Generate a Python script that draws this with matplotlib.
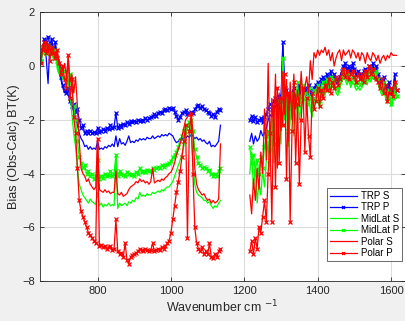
import numpy as np
import matplotlib
matplotlib.use('Agg')
import matplotlib.pyplot as plt

plt.rcParams['font.family'] = ['Liberation Sans', 'DejaVu Sans']

# wavenumber grids (cm-1) for the two bands
wn1 = np.arange(645, 1136, 5)
wn2 = np.arange(1215, 1616, 5)

# ---- band 1 (645-1135) ----
trp_p1 = [0.2, 0.7, 1.0, 0.9, 1.1, 0.8, 1.0, 0.6, 0.9, 0.3,
          0.0, -0.4, -0.7, -0.9, -1.0, -0.8, -1.3, -1.5, -1.4, -1.7,
          -1.6, -2.0, -2.3, -2.2, -2.5, -2.4, -2.5, -2.4, -2.5, -2.45,
          -2.5, -2.3, -2.45, -2.4, -2.35, -2.4, -2.3, -2.35, -2.2, -2.3,
          -2.25, -1.75, -2.3, -2.2, -2.25, -2.15, -2.2, -2.1, -2.15, -2.05,
          -2.1, -2.05, -2.1, -2.0, -2.05, -2.0, -2.05, -1.95, -2.0, -1.95,
          -1.9, -1.85, -1.8, -1.85, -1.75, -1.7, -1.75, -1.65, -1.6, -1.65,
          -1.55, -1.6, -1.55, -1.7, -1.85, -2.0, -1.9, -1.75, -1.7, -1.65,
          -1.8, -1.75, -1.7, -1.75, -1.6, -1.5, -1.45, -1.55, -1.5, -1.6,
          -1.65, -1.7, -1.75, -1.85, -1.8, -1.9, -1.7, -1.6, -1.65]
trp_s1 = [0.1, 0.6, 0.9, 0.3, -0.65, 0.8, 0.9, 0.5, 0.8, 0.2,
          -0.2, -0.5, -0.8, -1.0, -0.9, -1.1, -1.3, -1.5, -1.7, -1.9,
          -2.2, -2.5, -2.7, -2.8, -3.0, -2.95, -3.1, -3.0, -3.1, -3.05,
          -3.1, -2.8, -3.1, -3.05, -3.1, -3.0, -3.05, -2.95, -3.0, -2.9,
          -3.0, -2.6, -3.0, -2.7, -2.9, -2.85, -2.95, -2.8, -2.6, -2.85,
          -2.8, -2.85, -2.75, -2.8, -2.7, -2.75, -2.7, -2.75, -2.65, -2.7,
          -2.7, -2.6, -2.7, -2.65, -2.6, -2.65, -2.55, -2.6, -2.55, -2.6,
          -2.5, -2.55, -2.6, -2.75, -2.85, -2.8, -2.7, -2.75, -2.65, -2.7,
          -2.6, -2.65, -2.55, -2.6, -2.7, -2.65, -2.75, -2.7, -2.8, -2.75,
          -2.85, -2.9, -2.8, -3.0, -2.95, -3.0, -2.9, -2.8, -2.2]
mid_p1 = [0.2, 0.5, 0.7, 0.6, 0.8, 0.5, 0.7, 0.3, 0.6, 0.2,
          -0.1, -0.3, -0.2, -0.5, -0.4, -0.6, -0.3, -0.9, -1.5, -2.0,
          -2.8, -3.4, -3.6, -3.8, -3.7, -4.0, -3.9, -4.1, -4.0, -4.2,
          -4.1, -3.5, -4.2, -4.1, -4.15, -4.0, -4.1, -4.05, -3.9, -4.1,
          -4.0, -3.3, -4.1, -3.9, -4.0, -4.05, -4.1, -3.95, -4.0, -4.05,
          -4.0, -4.1, -3.95, -4.0, -3.8, -3.95, -3.9, -3.95, -3.85, -3.9,
          -3.9, -3.8, -3.85, -3.8, -3.75, -3.8, -3.7, -3.75, -3.7, -3.65,
          -3.6, -3.55, -3.4, -3.3, -3.2, -3.0, -2.8, -2.6, -2.4, -2.3,
          -2.2, -2.1, -2.0, -2.4, -3.1, -3.4, -3.6, -3.7, -3.8, -3.75,
          -3.8, -3.9, -3.85, -4.0, -4.1, -4.0, -4.1, -3.9, -3.8]
mid_s1 = [0.0, 0.5, 0.6, 0.4, 0.7, 0.3, 0.6, 0.2, 0.5, -0.1,
          -0.3, -0.2, -0.5, -0.4, -0.8, -0.6, -1.0, -1.8, -2.5, -3.0,
          -3.8, -4.4, -4.6, -4.8, -4.9, -5.0, -5.1, -4.95, -5.05, -5.1,
          -5.15, -4.7, -5.2, -5.1, -5.25, -5.15, -5.2, -5.1, -5.2, -5.15,
          -5.2, -3.3, -5.3, -5.1, -5.2, -5.15, -5.1, -5.2, -5.05, -5.1,
          -5.0, -5.05, -4.9, -4.95, -4.7, -4.85, -4.8, -4.85, -4.75, -4.8,
          -4.8, -4.7, -4.75, -4.7, -4.65, -4.7, -4.6, -4.65, -4.55, -4.5,
          -4.5, -4.4, -4.3, -4.1, -3.9, -3.7, -3.5, -3.3, -3.0, -2.6,
          -2.3, -2.1, -2.5, -3.6, -4.4, -4.7, -4.8, -4.85, -4.9, -5.0,
          -5.0, -5.1, -5.05, -5.2, -5.3, -5.2, -5.25, -5.1, -5.0]
pol_s1 = [0.3, 0.8, 0.6, 0.9, 0.5, 0.7, 0.4, 0.6, 0.3, 0.5,
          0.2, 0.0, -0.2, 0.1, -0.4, 0.3, -0.6, -0.3, -1.0, -0.4,
          -1.5, -2.8, -3.8, -4.0, -4.1, -4.3, -4.2, -4.4, -4.5, -4.6,
          -4.5, -2.7, -4.6, -4.65, -4.7, -4.6, -4.7, -4.65, -4.75, -4.7,
          -4.7, -3.9, -4.75, -4.8, -4.7, -4.85, -4.8, -4.75, -4.6, -4.5,
          -4.45, -4.4, -4.3, -4.35, -4.2, -4.3, -4.25, -4.35, -4.3, -4.4,
          -4.3, -3.8, -4.35, -4.3, -4.25, -4.3, -4.2, -4.25, -4.15, -4.1,
          -4.0, -3.95, -3.8, -3.6, -3.3, -3.1, -2.9, -2.6, -2.3, -2.0,
          -1.9, -1.8, -1.7, -2.5, -3.8, -4.4, -4.6, -4.7, -4.8, -4.75,
          -4.9, -5.0, -4.95, -5.1, -5.0, -5.1, -5.05, -4.95, -2.9]
pol_p1 = [0.1, 0.6, 0.9, 0.5, 0.8, 0.2, 0.7, 0.5, 0.3, 0.6,
          0.1, -0.3, 0.0, -0.5, -0.8, 0.4, -1.2, -0.5, -1.9, -2.5,
          -3.8, -5.0, -5.4, -5.6, -5.8, -6.0, -6.2, -6.3, -6.4, -6.5,
          -6.6, -2.7, -6.7, -6.65, -6.75, -6.7, -6.8, -6.75, -6.7, -6.85,
          -6.8, -5.7, -6.9, -7.0, -6.95, -7.1, -6.6, -7.2, -7.35, -7.1,
          -7.05, -7.0, -6.95, -6.9, -6.8, -6.85, -6.9, -6.8, -6.85, -6.9,
          -6.85, -6.6, -6.9, -6.85, -6.8, -6.85, -6.75, -6.8, -6.7, -6.6,
          -6.5, -6.2, -5.7, -5.2, -4.7, -4.3, -3.9, -3.4, -2.8, -2.2,
          -6.4, -2.4, -1.8, -4.0, -6.0, -6.6, -6.8, -6.9, -6.75, -7.0,
          -6.9, -7.0, -6.6, -7.1, -7.15, -7.0, -7.1, -6.9, -6.8]

# ---- band 2 (1215-1615) ----
trp_p2 = [-2.0, -1.85, -2.05, -1.9, -2.1, -2.0, -1.95, -2.1, -1.9, -1.8,
          -1.6, -1.4, -1.5, -1.3, -1.2, -1.4, -1.1, -1.3, 0.9, -0.8,
          -0.9, -1.1, -1.3, -1.0, -0.8, -1.2, -1.0, -0.7, -1.1, -0.9,
          -0.8, -1.0, -0.7, -0.9, -1.1, -0.8, -0.7, -0.6, -0.9, -0.5,
          -0.4, -0.6, -0.3, -0.5, -0.2, -0.4, -0.3, -0.5, -0.6, -0.4,
          -0.2, 0.0, 0.1, -0.1, 0.0, -0.2, 0.1, -0.1, -0.3, -0.2,
          -0.3, -0.4, -0.2, -0.1, -0.3, 0.0, -0.2, 0.1, -0.1, 0.0,
          -0.3, -0.5, -0.6, -0.4, -0.7, -0.8, -0.6, -1.0, -0.9, -0.3,
          -0.9]
trp_s2 = [-2.8, -2.5, -2.9, -2.6, -2.8, -2.7, -2.4, -2.6, -2.5, -2.3,
          -2.0, -1.8, -1.9, -1.6, -1.5, -1.7, -1.3, -1.4, 0.8, -0.9,
          -1.0, -1.3, -1.4, -1.1, -0.9, -1.3, -1.1, -0.8, -1.2, -1.0,
          -0.9, -1.1, -0.8, -1.0, -1.2, -0.9, -0.8, -0.7, -1.0, -0.6,
          -0.5, -0.7, -0.4, -0.6, -0.3, -0.5, -0.4, -0.6, -0.7, -0.5,
          -0.3, -0.1, 0.0, -0.2, -0.1, -0.3, 0.0, -0.2, -0.4, -0.3,
          -0.4, -0.5, -0.3, -0.2, -0.4, -0.1, -0.3, 0.0, -0.2, -0.1,
          -0.4, -0.6, -0.7, -0.5, -0.8, -0.9, -0.7, -1.1, -1.0, -0.4,
          -1.0]
mid_p2 = [-3.0, -3.6, -3.3, -3.9, -3.5, -4.0, -3.4, -3.8, -3.0, -2.6,
          -2.4, -3.1, -2.0, -2.9, -1.6, -2.6, -1.3, -2.2, 0.3, -1.5,
          -1.2, -2.4, -1.6, -1.0, -2.0, -1.4, -0.6, -1.5, -1.1, -0.7,
          -1.0, -1.4, -0.8, -1.2, -1.5, -0.9, -1.1, -0.7, -1.3, -0.8,
          -0.6, -0.9, -0.5, -0.8, -0.4, -0.6, -0.5, -0.8, -0.9, -0.6,
          -0.4, -0.2, -0.3, -0.5, -0.3, -0.6, -0.4, -0.5, -0.7, -0.6,
          -0.7, -0.6, -0.4, -0.3, -0.5, -0.2, -0.4, -0.1, -0.3, -0.2,
          -0.5, -0.7, -0.9, -0.6, -1.0, -1.2, -0.9, -1.4, -1.2, -0.7,
          -1.1]
mid_s2 = [-4.0, -3.2, -4.6, -3.7, -5.1, -4.3, -4.8, -3.9, -4.5, -3.5,
          -2.8, -3.9, -2.5, -3.6, -2.1, -3.3, -1.7, -2.9, 0.2, -2.0,
          -1.6, -3.0, -2.0, -1.4, -2.6, -1.8, -0.9, -2.0, -1.5, -1.0,
          -1.3, -1.8, -1.1, -1.6, -1.9, -1.2, -1.4, -1.0, -1.6, -1.1,
          -0.8, -1.1, -0.7, -1.0, -0.6, -0.8, -0.7, -1.0, -1.1, -0.8,
          -0.6, -0.4, -0.5, -0.7, -0.5, -0.8, -0.6, -0.7, -0.9, -0.8,
          -0.9, -0.8, -0.6, -0.5, -0.7, -0.4, -0.6, -0.3, -0.5, -0.4,
          -0.7, -0.9, -1.1, -0.8, -1.2, -1.4, -1.1, -1.5, -1.3, -0.9,
          -1.2]
pol_s2 = [-4.8, -5.5, -4.2, -5.0, -3.8, -4.6, -3.2, -4.0, -1.6, -3.5,
          0.1, -3.0, -1.2, -2.5, -0.3, -3.8, -1.0, -2.4, -0.2, -1.8,
          -0.5, -2.8, -0.6, -2.0, -0.3, -1.6, -0.9, -1.5, -0.2, -1.3,
          -0.8, -0.4, -1.0, 0.2, -0.5, 0.5, 0.3, 0.6, 0.4, 0.6,
          0.5, 0.7, 0.4, 0.6, 0.2, 0.5, 0.0, 0.3, 0.5, 0.6,
          0.2, 0.6, 0.4, 0.5, 0.6, 0.3, 0.6, 0.5, 0.3, 0.5,
          0.2, 0.5, 0.4, 0.1, 0.5, 0.3, 0.2, 0.5, 0.4, 0.2,
          0.4, 0.1, 0.3, 0.4, 0.2, 0.4, 0.3, 0.5, 0.4, 0.4,
          0.4]
pol_p2 = [-6.9, -6.5, -7.0, -6.4, -6.8, -6.0, -6.2, -5.6, -5.0, -5.8,
          -4.0, -2.5, -5.8, -1.5, -4.5, -0.8, -3.6, -1.2, -2.2, -0.3,
          -4.2, -1.0, -5.8, -2.4, -0.6, -3.6, -1.4, -4.4, -2.0, -0.8,
          -3.2, -1.2, -2.6, -3.4, -1.0, -1.6, -1.3, -0.8, -1.5, -0.9,
          -1.2, -0.7, -0.9, -0.5, -1.0, -0.6, -0.8, -0.4, -0.7, -0.5,
          -0.3, -0.1, -0.4, -0.2, -0.5, -0.3, -0.2, -0.4, -0.6, -0.3,
          -0.5, -0.3, -0.6, -0.2, -0.4, 0.0, -0.3, -0.1, -0.4, -0.5,
          -0.6, -0.8, -0.5, -1.0, -0.7, -1.3, -1.0, -0.8, -1.1, -0.6,
          -0.9]

labels = ['TRP S', 'TRP P', 'MidLat S', 'MidLat P', 'Polar S', 'Polar P']
colors = ['#0000ff', '#0000ff', '#00ff00', '#00ff00', '#ff0000', '#ff0000']
markers = ['', 'x', '', 'x', '', 'x']
band1 = [trp_s1, trp_p1, mid_s1, mid_p1, pol_s1, pol_p1]
band2 = [trp_s2, trp_p2, mid_s2, mid_p2, pol_s2, pol_p2]

# join the two bands with a NaN so the gap is not drawn
wn = np.concatenate([wn1, [np.nan], wn2])

fig = plt.figure(figsize=(4.06, 3.21), dpi=100, facecolor='#f0f0f0')
ax = fig.add_axes([0.0985, 0.1246, 0.899, 0.837])

for i in range(6):
    y = np.concatenate([band1[i], [np.nan], band2[i]])
    ax.plot(wn, y, color=colors[i], marker=markers[i], markersize=3.5,
            markeredgewidth=0.9, linewidth=0.9, label=labels[i])

ax.set_xlim(643, 1638)
ax.set_ylim(-8, 2)
ax.set_xticks([800, 1000, 1200, 1400, 1600])
ax.set_yticks([-8, -6, -4, -2, 0, 2])
ax.grid(True, color='#dcdcdc', linewidth=0.8)
ax.set_axisbelow(True)
ax.tick_params(direction='in', length=3, width=0.6, top=True, right=True,
               labelsize=8, colors='#262626')
for s in ax.spines.values():
    s.set_color('#262626')
    s.set_linewidth(0.6)

ax.set_xlabel('Wavenumber cm $^{-1}$', fontsize=9, color='#262626', labelpad=2)
ax.set_ylabel('Bias (Obs-Calc) BT(K)', fontsize=9, color='#262626', labelpad=2)

leg = ax.legend(loc='lower right', bbox_to_anchor=(0.992, 0.074), borderaxespad=0,
                fontsize=7, frameon=True, fancybox=False, edgecolor='#262626',
                handlelength=2.8, borderpad=0.3, labelspacing=0.15,
                handletextpad=0.4, markerscale=0.6)
leg.get_frame().set_linewidth(0.6)

fig.savefig('out.png', dpi=100, facecolor=fig.get_facecolor())
